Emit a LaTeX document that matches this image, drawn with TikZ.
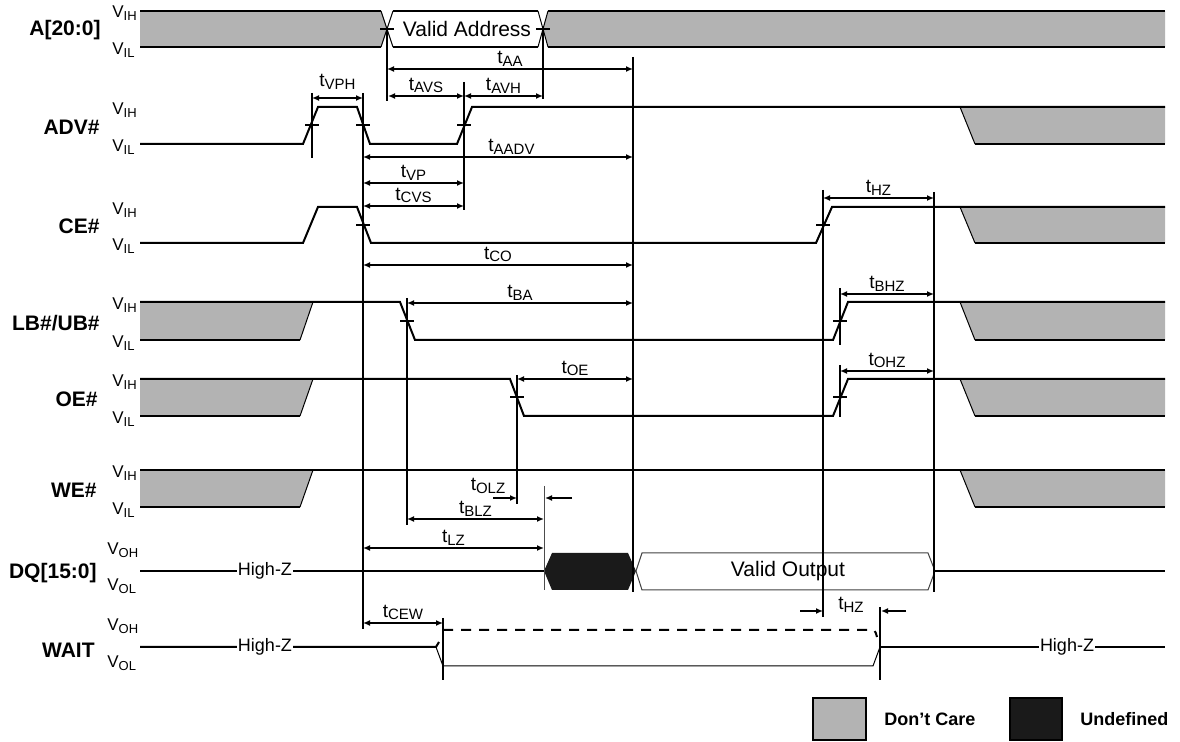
\documentclass[tikz,border=0pt]{standalone}
\usepackage{fontspec}
\setmainfont{Liberation Sans}
\usetikzlibrary{arrows.meta,positioning}
\definecolor{dcgray}{HTML}{B3B3B3}
\definecolor{undefblk}{HTML}{1A1A1A}
\newcommand{\tsub}[1]{{\fontsize{9.5}{9.5}\selectfont t\raisebox{-1.4pt}{\fontsize{7.5}{7.5}\selectfont #1}}}
\newcommand{\vsub}[1]{{\fontsize{8.5}{8.5}\selectfont V\raisebox{-1.3pt}{\fontsize{6.5}{6.5}\selectfont #1}}}

\begin{document}
\begin{tikzpicture}[
    x=0.5pt, y=-0.5pt,
    sig/.style={line width=1pt},
    fine/.style={line width=0.5pt},
    guide/.style={line width=1pt},
    tickmark/.style={line width=0.8pt},
    dim/.style={{Latex[length=3.5pt,width=3pt]}-{Latex[length=3.5pt,width=3pt]}, line width=0.9pt},
    ray/.style={-{Latex[length=3.5pt,width=3pt]}, line width=0.9pt},
    signame/.style={anchor=east, inner sep=0pt, font=\bfseries\fontsize{10.5}{12}\selectfont},
    lvl/.style={anchor=west, inner sep=0pt},
    lbl/.style={above, inner sep=1pt},
    state/.style={inner sep=0.5pt, fill=white, font=\fontsize{9}{10}\selectfont},
    legend/.style={anchor=west, inner sep=0pt, font=\bfseries\fontsize{9}{10}\selectfont},
    dontcare/.style={fill=dcgray}
]
    \useasboundingbox (0,0) rectangle (1180,742);

    \node[signame] (nA)   at (101,30)  {A[20:0]};
    \node[signame] (nADV) at (100,127) {ADV\#};
    \node[signame] (nCE)  at (100,226) {CE\#};
    \node[signame] (nLB)  at (100,323) {LB\#/UB\#};
    \node[signame] (nOE)  at (98,399)  {OE\#};
    \node[signame] (nWE)  at (97,490)  {WE\#};
    \node[signame] (nDQ)  at (97,573)  {DQ[15:0]};
    \node[signame] (nWT)  at (95,650)  {WAIT};

    \foreach \y/\s [count=\i] in {13/IH, 50/IL, 110/IH, 147/IL, 210/IH, 246/IL,
        305/IH, 343/IL, 382/IH, 419/IL, 473/IH, 510/IL}
        \node[lvl] (vi\i) at (112,\y) {\vsub{\s}};
    \foreach \y/\s [count=\i] in {550/OH, 586/OL, 626/OH, 663/OL}
        \node[lvl] (vo\i) at (107,\y) {\vsub{\s}};

    % A[20:0]
    \fill[dontcare] (140,11) -- (381,11) -- (387,29) -- (381,47) -- (140,47) -- cycle;
    \fill[dontcare] (548,11) -- (1165,11) -- (1165,47) -- (548,47) -- (543,29) -- cycle;
    \draw[sig] (140,11) -- (381,11) (140,47) -- (381,47);
    \draw[fine] (381,11) -- (393,47) (381,47) -- (393,11);
    \draw[sig] (393,11) -- (538,11) (393,47) -- (538,47);
    \draw[fine] (538,11) -- (548,47) (538,47) -- (548,11);
    \draw[sig] (548,11) -- (1165,11) (548,47) -- (1165,47);
    \node (vaddr) at (467,29) {\fontsize{10.5}{10.5}\selectfont Valid Address};
    \draw[tickmark] (380,29) -- (394,29) (536,29) -- (550,29);

    % ADV#
    \fill[dontcare] (960,107) -- (1165,107) -- (1165,144) -- (975,144) -- cycle;
    \draw[fine] (960,107) -- (975,144);
    \draw[sig] (975,144) -- (1165,144);
    \draw[sig] (140,144) -- (303,144) -- (318,107) -- (357,107) -- (370,144)
        -- (457,144) -- (472,107) -- (1165,107);
    \draw[tickmark] (305,125) -- (319,125) (356,125) -- (370,125) (457,125) -- (471,125);

    % CE#
    \fill[dontcare] (960,207) -- (1165,207) -- (1165,243) -- (975,243) -- cycle;
    \draw[fine] (960,207) -- (975,243);
    \draw[sig] (975,243) -- (1165,243);
    \draw[sig] (140,243) -- (303,243) -- (318,207) -- (357,207) -- (371,243)
        -- (816,243) -- (832,207) -- (1165,207);
    \draw[tickmark] (356,225) -- (370,225) (816,225) -- (830,225);

    % LB#/UB#, OE#, WE#
    \foreach \h/\l in {302/340, 379/416, 470/507} {
        \fill[dontcare] (140,\h) -- (313,\h) -- (300,\l) -- (140,\l) -- cycle;
        \draw[fine] (313,\h) -- (300,\l);
        \draw[sig] (140,\l) -- (300,\l);
        \fill[dontcare] (960,\h) -- (1165,\h) -- (1165,\l) -- (975,\l) -- cycle;
        \draw[fine] (960,\h) -- (975,\l);
        \draw[sig] (975,\l) -- (1165,\l);
    }
    \draw[sig] (140,302) -- (400,302) -- (415,340) -- (833,340) -- (848,302) -- (1165,302);
    \draw[sig] (140,379) -- (510,379) -- (524,416) -- (833,416) -- (848,379) -- (1165,379);
    \draw[sig] (140,470) -- (1165,470);
    \draw[tickmark] (400,321) -- (414,321) (833,321) -- (847,321)
        (510,397) -- (524,397) (833,397) -- (847,397);

    % DQ[15:0]
    \draw[sig] (140,571) -- (544,571);
    \node[state] (hz1) at (265,571) {High-Z};
    \fill[undefblk] (544,571) -- (552,553) -- (628,553) -- (636,571) -- (628,590) -- (552,590) -- cycle;
    \draw[fine, black!75] (636,571) -- (642,553) -- (928,553) -- (935,571) -- (928,590) -- (642,590) -- cycle;
    \node (vout) at (788,571) {\fontsize{10.5}{10.5}\selectfont Valid Output};
    \draw[sig] (935,571) -- (1165,571);

    % WAIT
    \draw[sig] (140,647) -- (436,647) -- (439,642);
    \node[state] (hz2) at (265,647) {High-Z};
    \draw[fine] (436,647) -- (443,666) -- (873,666) -- (880,647);
    \draw[sig, dash pattern=on 5pt off 4pt] (443,630) -- (870,630) .. controls (875,630) .. (877,637);
    \draw[sig] (880,647) -- (1165,647);
    \node[state] (hz3) at (1067,647) {High-Z};

    % timing references
    \draw[guide] (387,29) -- (387,101);
    \draw[guide] (543,29) -- (543,99);
    \draw[guide] (633,57) -- (633,592);
    \draw[guide] (312,93) -- (312,158);
    \draw[guide] (363,93) -- (363,629);
    \draw[guide] (464,82) -- (464,210);
    \draw[guide] (823,190) -- (823,617);
    \draw[guide] (934,192) -- (934,592);
    \draw[guide] (407,298) -- (407,525);
    \draw[guide] (840,288) -- (840,345);
    \draw[guide] (517,375) -- (517,504);
    \draw[guide] (840,365) -- (840,417);
    \draw[fine, black!70] (544,486) -- (544,590);
    \draw[guide] (443,618) -- (443,680);
    \draw[guide] (880,607) -- (880,680);

    \draw[dim] (387,69) -- node[lbl] (lAA) {\tsub{AA}} (633,69);
    \draw[dim] (312,98) -- node[lbl, yshift=3pt] (lVPH) {\tsub{VPH}} (363,98);
    \draw[dim] (388,96) -- node[lbl] (lAVS) {\tsub{AVS}} (464,96);
    \draw[dim] (464,96) -- node[lbl] (lAVH) {\tsub{AVH}} (543,96);
    \draw[dim] (363,157) -- node[lbl, pos=0.55] (lAADV) {\tsub{AADV}} (633,157);
    \draw[dim] (363,183) -- node[lbl] (lVP) {\tsub{VP}} (464,183);
    \draw[dim] (363,206) -- node[lbl] (lCVS) {\tsub{CVS}} (464,206);
    \draw[dim] (363,265) -- node[lbl] (lCO) {\tsub{CO}} (633,265);
    \draw[dim] (823,198) -- node[lbl] (lHZa) {\tsub{HZ}} (934,198);
    \draw[dim] (407,303) -- node[lbl] (lBA) {\tsub{BA}} (633,303);
    \draw[dim] (840,294) -- node[lbl] (lBHZ) {\tsub{BHZ}} (934,294);
    \draw[dim] (517,379) -- node[lbl] (lOE) {\tsub{OE}} (633,379);
    \draw[dim] (840,371) -- node[lbl] (lOHZ) {\tsub{OHZ}} (934,371);
    \draw[ray] (493,498) -- (517,498);
    \draw[ray] (572,498) -- (545,498);
    \node (lOLZ) at (488,486) {\tsub{OLZ}};
    \draw[dim] (407,519) -- node[lbl] (lBLZ) {\tsub{BLZ}} (544,519);
    \draw[dim] (363,548) -- node[lbl] (lLZ) {\tsub{LZ}} (544,548);
    \draw[dim] (363,623) -- node[lbl] (lCEW) {\tsub{CEW}} (443,623);
    \draw[ray] (800,611) -- (823,611);
    \draw[ray] (906,611) -- (881,611);
    \node (lHZb) at (851,605) {\tsub{HZ}};

    % legend
    \draw[line width=0.8pt, fill=dcgray] (813,698) rectangle (866,740);
    \node[legend] (kDC) at (884,719) {Don’t Care};
    \draw[line width=0.8pt, fill=undefblk] (1010,698) rectangle (1062,740);
    \node[legend] (kUD) at (1080,719) {Undefined};
\end{tikzpicture}
\end{document}
